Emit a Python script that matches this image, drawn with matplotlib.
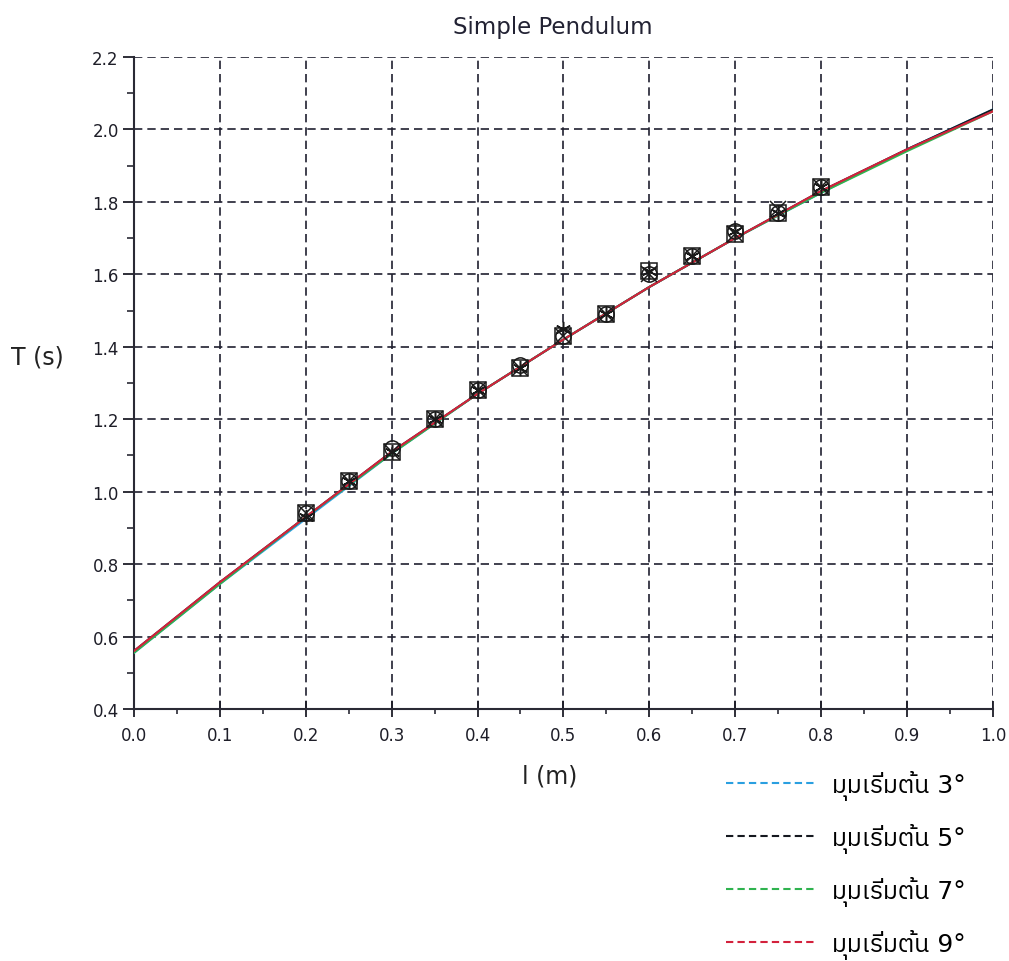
import matplotlib
matplotlib.use('Agg')
import matplotlib.pyplot as plt
from matplotlib.lines import Line2D
from matplotlib.ticker import MultipleLocator
from matplotlib import font_manager as fm
from matplotlib.ft2font import FT2Font

# measured points (length in m, period in s)
lengths = [0.2, 0.25, 0.3, 0.35, 0.4, 0.45, 0.5, 0.55, 0.6, 0.65, 0.7, 0.75, 0.8]
t_3deg = [0.94, 1.03, 1.11, 1.20, 1.28, 1.34, 1.43, 1.49, 1.61, 1.65, 1.71, 1.77, 1.84]
t_5deg = [0.94, 1.03, 1.12, 1.20, 1.28, 1.35, 1.43, 1.49, 1.60, 1.65, 1.72, 1.77, 1.84]
t_7deg = [0.93, 1.03, 1.11, 1.20, 1.28, 1.34, 1.45, 1.49, 1.61, 1.65, 1.72, 1.77, 1.84]
t_9deg = [0.94, 1.03, 1.11, 1.20, 1.28, 1.34, 1.43, 1.49, 1.60, 1.65, 1.71, 1.78, 1.84]

# fitted curves
fit_l = [0.0, 0.1, 0.2, 0.3, 0.4, 0.5, 0.6, 0.7, 0.8, 0.9, 1.0]
fit_3deg = [0.555, 0.745, 0.925, 1.105, 1.27, 1.42, 1.565, 1.70, 1.825, 1.945, 2.055]
fit_5deg = [0.56, 0.75, 0.93, 1.11, 1.27, 1.42, 1.565, 1.70, 1.83, 1.945, 2.055]
fit_7deg = [0.555, 0.745, 0.93, 1.105, 1.27, 1.42, 1.565, 1.70, 1.825, 1.94, 2.05]
fit_9deg = [0.56, 0.75, 0.93, 1.11, 1.27, 1.42, 1.565, 1.70, 1.83, 1.945, 2.05]

labels = ['มุมเริ่มต้น 3°', 'มุมเริ่มต้น 5°', 'มุมเริ่มต้น 7°', 'มุมเริ่มต้น 9°']
colors = ['#2a9fe0', '#15181f', '#2fb34f', '#d3213c']
markers = ['s', 'o', (6, 2, 0), 'x']

# look for installed fonts that have Thai glyphs, prefer proportional ones
thai_fonts = []
for path in fm.findSystemFonts():
    try:
        if 0x0E21 in FT2Font(path).get_charmap():
            thai_fonts.append(fm.FontProperties(fname=path).get_name())
    except Exception:
        pass
thai_fonts.sort(key=lambda n: (0 if 'Thai' in n else 1, 1 if 'Mono' in n else 0))
label_fonts = ['DejaVu Sans'] + thai_fonts[:1]

fig = plt.figure(figsize=(10.09, 9.62), dpi=100)
ax = fig.add_axes([0.1328, 0.262, 0.8512, 0.6777])

fits = [fit_3deg, fit_5deg, fit_7deg, fit_9deg]
points = [t_3deg, t_5deg, t_7deg, t_9deg]
for fit, c in zip(fits, colors):
    ax.plot(fit_l, fit, color=c, lw=1.5, zorder=3)
for pts, m in zip(points, markers):
    ax.plot(lengths, pts, linestyle='none', marker=m, ms=11, mfc='none',
            mec='#1a1a1a', mew=1.1, zorder=4)

ax.set_xlim(0, 1.0)
ax.set_ylim(0.4, 2.2)
ax.xaxis.set_major_locator(MultipleLocator(0.1))
ax.xaxis.set_minor_locator(MultipleLocator(0.05))
ax.yaxis.set_major_locator(MultipleLocator(0.2))
ax.yaxis.set_minor_locator(MultipleLocator(0.1))
ax.xaxis.set_major_formatter(plt.FormatStrFormatter('%.1f'))
ax.yaxis.set_major_formatter(plt.FormatStrFormatter('%.1f'))

ax.grid(True, which='major', color='#202030', lw=1.2, linestyle=(0, (5, 3)))
for s in ['top', 'right']:
    ax.spines[s].set_visible(False)
for s in ['left', 'bottom']:
    ax.spines[s].set_color('#2a2a35')
    ax.spines[s].set_linewidth(1.5)

ax.tick_params(axis='x', which='major', direction='inout', length=11, width=1.3,
               labelsize=12, pad=7, colors='#1e1e28')
ax.tick_params(axis='x', which='minor', direction='out', length=3.5, width=1.2, colors='#2a2a35')
ax.tick_params(axis='y', which='major', direction='out', length=8, width=1.3,
               labelsize=12, pad=3, colors='#1e1e28')
ax.tick_params(axis='y', which='minor', direction='out', length=5, width=1.2, colors='#2a2a35')

ax.set_title('Simple Pendulum', fontsize=16.5, pad=17, color='#222233',
             x=(553 - 134) / 859)
fig.text(37 / 1009, 1 - 358 / 962, 'T (s)', fontsize=17, ha='center', va='center',
         family=label_fonts, color='#222222')
fig.text(550 / 1009, 1 - 777 / 962, 'l (m)', fontsize=17, ha='center', va='center',
         family=label_fonts, color='#222222')

handles = [Line2D([], [], color=c, lw=1.5, linestyle=(0, (3.5, 2))) for c in colors]
fig.legend(handles, labels, loc='upper left', bbox_to_anchor=(726 / 1009, 1 - 771 / 962),
           frameon=False, borderpad=0, borderaxespad=0, handlelength=3.56,
           handletextpad=0.68, labelspacing=0.92, prop={'family': label_fonts, 'size': 18})

fig.savefig('out.png', dpi=100)
